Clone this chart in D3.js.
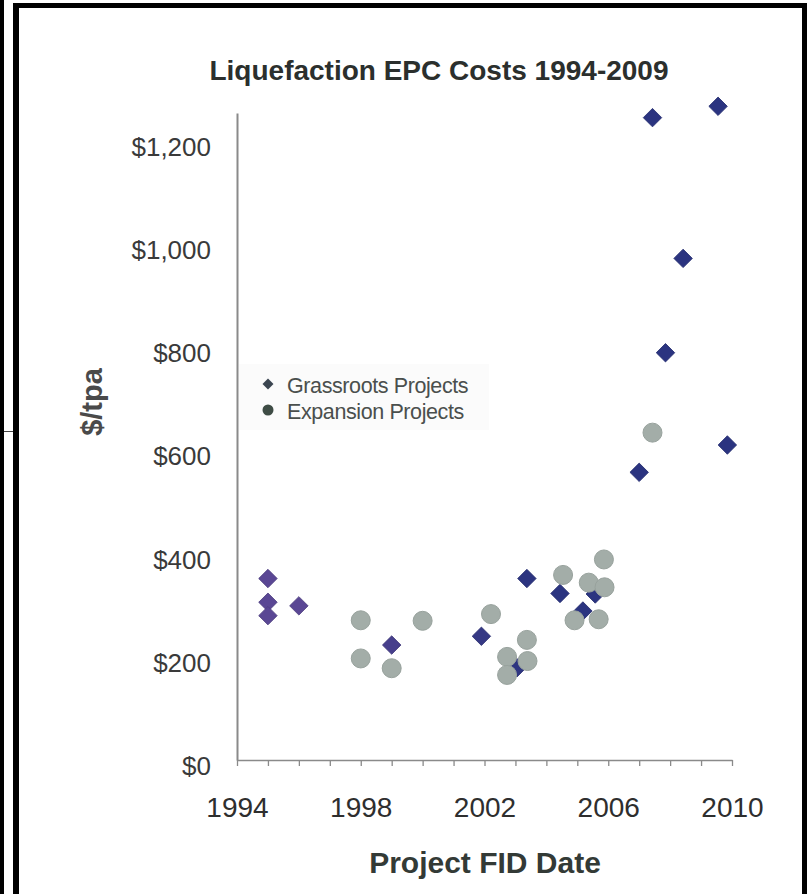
<!DOCTYPE html>
<html>
<head>
<meta charset="utf-8">
<script src="https://cdn.jsdelivr.net/npm/d3@7"></script>
<style>
  html, body { margin: 0; padding: 0; background: #ffffff; }
  svg { display: block; }
  text { font-family: "Liberation Sans", Arial, sans-serif; }
</style>
</head>
<body>
<script>
// Liquefaction EPC cost per tonne-per-annum, by project FID date
const grassrootsYear = [1995.0, 1995.0, 1995.0, 1996.0, 1999.0, 2001.9, 2003.05, 2003.37, 2004.44, 2005.18, 2005.58, 2007.0, 2007.43, 2007.85, 2008.42, 2009.55, 2009.85];
const grassrootsCost = [352, 306, 280, 299, 223, 240, 179, 352, 323, 289, 322, 558, 1246, 790, 973, 1268, 611];

const expansionYear = [1998.0, 1998.0, 1999.0, 2000.0, 2002.21, 2002.73, 2002.73, 2003.37, 2003.39, 2004.54, 2004.91, 2005.37, 2005.86, 2005.88, 2005.69, 2007.43];
const expansionCost = [271, 197, 178, 270, 283, 200, 165, 233, 192, 359, 271, 344, 389, 335, 273, 635];

const xTickYears = [1994, 1995, 1996, 1997, 1998, 1999, 2000, 2001, 2002, 2003, 2004, 2005, 2006, 2007, 2008, 2009, 2010];
const xLabelYears = [1994, 1998, 2002, 2006, 2010];
const yTickValues = [0, 200, 400, 600, 800, 1000, 1200];

const seriesNames = ["Grassroots Projects", "Expansion Projects"];
const chartTitle = "Liquefaction EPC Costs 1994-2009";
const xTitle = "Project FID Date";
const yTitle = "$/tpa";

const W = 807, H = 894;
const svg = d3.select("body").append("svg").attr("width", W).attr("height", H);

svg.append("rect").attr("width", W).attr("height", H).attr("fill", "#ffffff");

// page frame
const frame = svg.append("g").attr("fill", "#000");
frame.append("rect").attr("x", 0).attr("y", 0).attr("width", 4).attr("height", H);
frame.append("rect").attr("x", 13).attr("y", 3).attr("width", 6).attr("height", H - 3);
frame.append("rect").attr("x", 13).attr("y", 3).attr("width", W - 13).attr("height", 5);
frame.append("rect").attr("x", 802).attr("y", 3).attr("width", 5).attr("height", H - 3);
svg.append("line").attr("x1", 4).attr("x2", 13).attr("y1", 431.5).attr("y2", 431.5)
  .attr("stroke", "#444").attr("stroke-width", 1);

const x = d3.scaleLinear().domain([1994, 2010]).range([237, 732]);
const y = d3.scaleLinear().domain([0, 1255]).range([760, 113]);

const grey = "#8a8a8a";

// title
svg.append("text")
  .attr("x", 439).attr("y", 80)
  .attr("text-anchor", "middle")
  .attr("font-size", 28).attr("font-weight", "bold")
  .attr("fill", "#2b2f2d")
  .text(chartTitle);

// x axis
const xAxis = d3.axisBottom(x)
  .tickValues(xTickYears)
  .tickSize(6)
  .tickSizeOuter(0)
  .tickPadding(31)
  .tickFormat(d => xLabelYears.includes(d) ? String(d) : "");
const gx = svg.append("g").attr("transform", `translate(0,${y(0)})`).call(xAxis);
gx.select(".domain").attr("stroke", grey).attr("stroke-width", 1.5);
gx.selectAll(".tick line").attr("stroke", grey).attr("stroke-width", 1.3);
gx.selectAll(".tick text")
  .attr("font-size", 28).attr("fill", "#2e2e2e")
  .attr("font-family", "Liberation Sans, Arial, sans-serif");

// y axis
const yAxis = d3.axisLeft(y)
  .tickValues(yTickValues)
  .tickSize(0)
  .tickSizeOuter(0)
  .tickPadding(26)
  .tickFormat(d => "$" + d3.format(",")(d));
const gy = svg.append("g").attr("transform", `translate(${x(1994)},0)`).call(yAxis);
gy.select(".domain").attr("stroke", grey).attr("stroke-width", 2);
gy.selectAll(".tick text")
  .attr("font-size", 26).attr("fill", "#3a3a3a")
  .attr("dy", "0.55em")
  .attr("font-family", "Liberation Sans, Arial, sans-serif");

// axis titles
svg.append("text")
  .attr("x", 485).attr("y", 873)
  .attr("text-anchor", "middle")
  .attr("font-size", 30).attr("font-weight", "bold")
  .attr("fill", "#333a36")
  .text(xTitle);

svg.append("text")
  .attr("transform", `translate(102,402) rotate(-90)`)
  .attr("text-anchor", "middle")
  .attr("font-size", 29).attr("font-weight", "bold")
  .attr("fill", "#4a4a4a")
  .text(yTitle);

// legend
const legend = svg.append("g");
legend.append("rect").attr("x", 239).attr("y", 364).attr("width", 250).attr("height", 66)
  .attr("fill", "#fbfbfb");
legend.append("path")
  .attr("d", d3.symbol(d3.symbolSquare, 60)())
  .attr("transform", "translate(268,384) rotate(45)")
  .attr("fill", "#3b4550");
legend.append("circle").attr("cx", 268).attr("cy", 410).attr("r", 5.5).attr("fill", "#3e4c45");
legend.selectAll("text.leg").data(seriesNames).join("text")
  .attr("class", "leg")
  .attr("x", 287).attr("y", (d, i) => 393 + i * 26)
  .attr("font-size", 21.5).attr("fill", "#4a4f4d")
  .attr("letter-spacing", "-0.4")
  .text(d => d);

// grassroots diamonds, purple for the early projects shading to navy
const diamondColor = d3.scaleLinear().domain([1996, 2003.5]).range(["#5a4794", "#2b3480"]).clamp(true);
const grassroots = grassrootsYear.map((yr, i) => ({ yr, v: grassrootsCost[i] }));
svg.append("g").selectAll("path").data(grassroots).join("path")
  .attr("d", d3.symbol(d3.symbolSquare, 170)())
  .attr("transform", d => `translate(${x(d.yr)},${y(d.v)}) rotate(45)`)
  .attr("fill", d => diamondColor(d.yr))
  .attr("stroke", d => d3.color(diamondColor(d.yr)).darker(0.4))
  .attr("stroke-width", 0.8);

// expansion circles
const expansion = expansionYear.map((yr, i) => ({ yr, v: expansionCost[i] }));
svg.append("g").selectAll("circle").data(expansion).join("circle")
  .attr("cx", d => x(d.yr))
  .attr("cy", d => y(d.v))
  .attr("r", 9.5)
  .attr("fill", "#a3ada8")
  .attr("stroke", "#98a29d")
  .attr("stroke-width", 1);
</script>
</body>
</html>
